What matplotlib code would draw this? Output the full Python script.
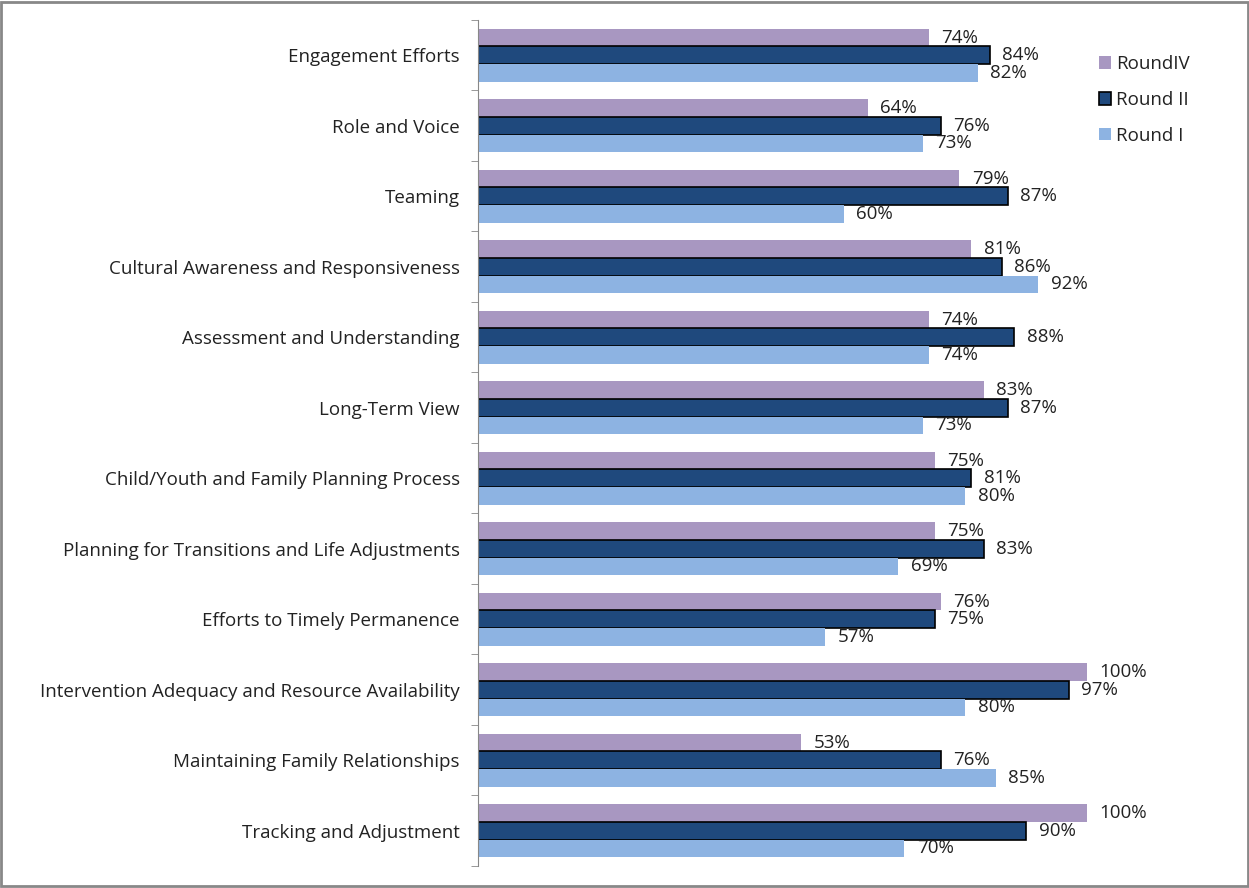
import matplotlib

matplotlib.use("Agg")
import matplotlib.pyplot as plt  # noqa: E402
from matplotlib.patches import Rectangle  # noqa: E402
import numpy as np  # noqa: E402

categories = [
    "Engagement Efforts",
    "Role and Voice",
    "Teaming",
    "Cultural Awareness and Responsiveness",
    "Assessment and Understanding",
    "Long-Term View",
    "Child/Youth and Family Planning Process",
    "Planning for Transitions and Life Adjustments",
    "Efforts to Timely Permanence",
    "Intervention Adequacy and Resource Availability",
    "Maintaining Family Relationships",
    "Tracking and Adjustment",
]
round_iv = [74, 64, 79, 81, 74, 83, 75, 75, 76, 100, 53, 100]
round_ii = [84, 76, 87, 86, 88, 87, 81, 83, 75, 97, 76, 90]
round_i = [82, 73, 60, 92, 74, 73, 80, 69, 57, 80, 85, 70]

plt.rcParams["font.family"] = ["Open Sans", "DejaVu Sans"]

fig = plt.figure(figsize=(12.49, 8.88), dpi=100)
ax = fig.add_axes([0.3827, 0.0248, 0.5853, 0.9527])

y = np.arange(len(categories))
h = 0.25
series = [
    (round_iv, -h, "#A897C1", "none", "RoundIV"),
    (round_ii, 0.0, "#1F497D", "black", "Round II"),
    (round_i, h, "#8DB3E2", "none", "Round I"),
]
for vals, off, color, edge, label in series:
    bars = ax.barh(y + off, [v / 100 for v in vals], height=h, color=color,
                   edgecolor=edge, linewidth=1.2 if edge != "none" else 0,
                   label=label)
    ax.bar_label(bars, labels=[f"{v}%" for v in vals], padding=9,
                 fontsize=13.5, color="#222222")

ax.set_xlim(0, 1.2)
ax.set_ylim(len(categories) - 0.5, -0.5)
ax.set_yticks(y)
ax.set_yticklabels(categories, fontsize=13.5, color="#222222")
ax.tick_params(axis="y", which="major", length=0, pad=13)
ax.set_yticks(np.arange(len(categories) + 1) - 0.5, minor=True)
ax.tick_params(axis="y", which="minor", length=5, color="#888888")
ax.set_xticks([])
for side in ("top", "right", "bottom"):
    ax.spines[side].set_visible(False)
ax.spines["left"].set_color("#888888")

leg = fig.legend(loc="upper left", bbox_to_anchor=(0.866, 0.957), frameon=False,
                 fontsize=13.5, handlelength=0.65, handleheight=0.65,
                 handletextpad=0.3, labelspacing=0.95)
for t in leg.get_texts():
    t.set_color("#222222")

fig.patches.append(Rectangle((0.001, 0.002), 0.998, 0.996, transform=fig.transFigure,
                             fill=False, edgecolor="#888888", linewidth=2))

fig.savefig("out.png", dpi=100)
